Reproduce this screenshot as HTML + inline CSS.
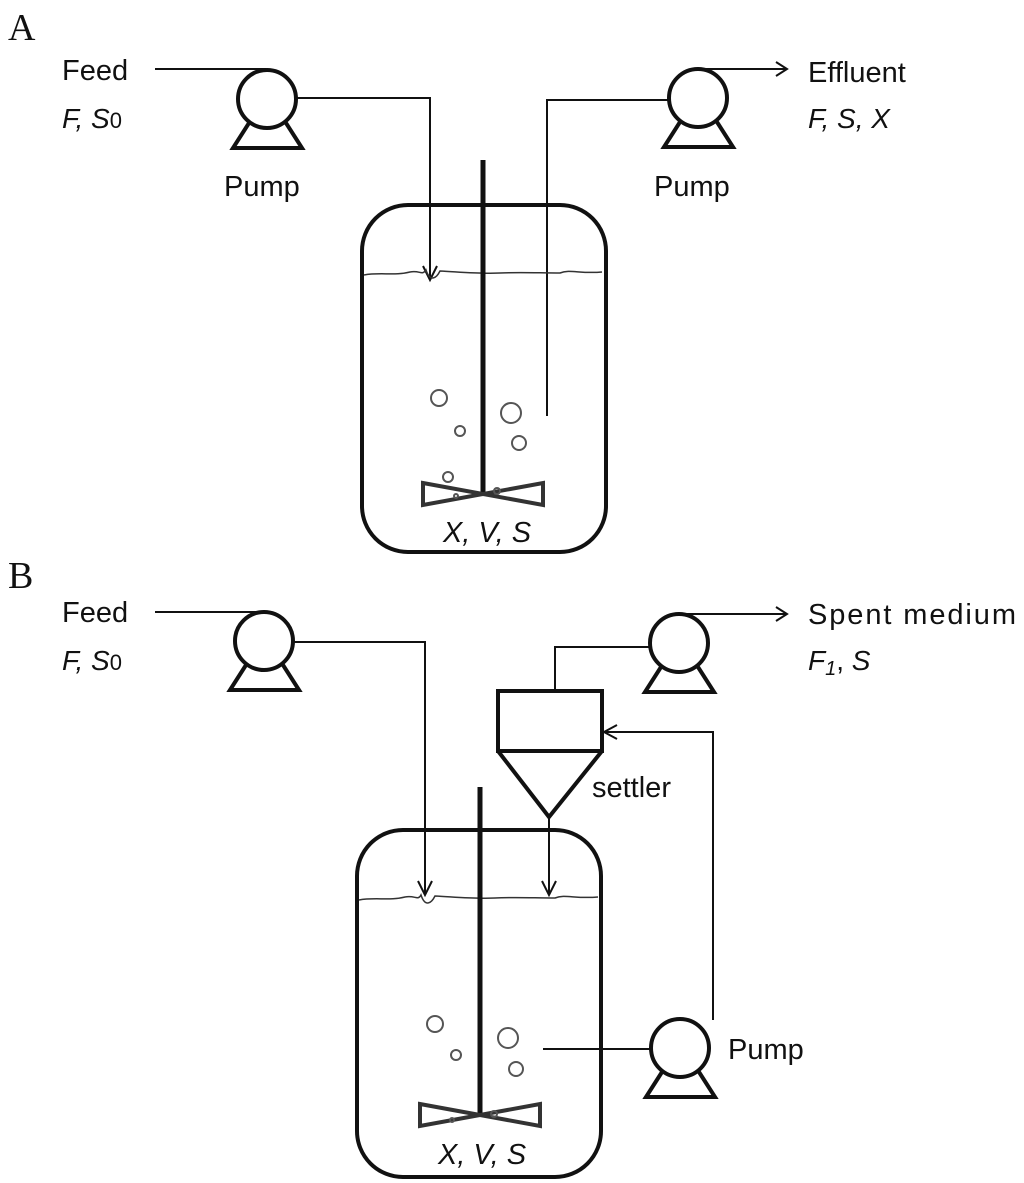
<!DOCTYPE html>
<html><head><style>
html,body{margin:0;padding:0;background:#fff;}
svg{display:block;}
text{font-family:"Liberation Sans",sans-serif;fill:#111;}
.i{font-style:italic;}
</style></head><body>
<svg width="1024" height="1183" viewBox="0 0 1024 1183" xmlns="http://www.w3.org/2000/svg">
<defs>
<g id="pump">
<circle cx="0" cy="0" r="29" fill="#fff" stroke="#111" stroke-width="4"/>
<path d="M-18,24 L-34,49 L35,49 L19,24" fill="none" stroke="#111" stroke-width="4" stroke-linejoin="miter"/>
</g>
<g id="imp">
<path d="M-60,-11 L60,11 L60,-11 L-60,11 Z" fill="none" stroke="#333" stroke-width="4" stroke-linejoin="miter"/>
</g>
</defs>
<text x="8" y="40" style="font-family:'Liberation Serif',serif;font-size:38px">A</text>
<text x="62" y="80" font-size="29">Feed</text>
<text x="62" y="128" font-size="28" class="i">F, S<tspan font-style="normal" font-size="22">0</tspan></text>
<text x="224" y="196" font-size="29">Pump</text>
<text x="654" y="196" font-size="29">Pump</text>
<text x="808" y="82" font-size="29">Effluent</text>
<text x="808" y="128" font-size="28" class="i">F, S, X</text>
<g stroke="#111" fill="none" stroke-width="2">
<path d="M155,69 L266,69"/>
<path d="M296,98 L430,98 L430,278"/>
<path d="M423,266 L430,280 L437,266"/>
<path d="M547,416 L547,100 L669,100"/>
<path d="M698,69 L786,69"/>
<path d="M776,62 L787,69 L776,76"/>
</g>
<use href="#pump" x="267" y="99"/>
<use href="#pump" x="698" y="98"/>
<rect x="362" y="205" width="244" height="347" rx="46" fill="none" stroke="#111" stroke-width="4"/>
<path d="M364,275 C380,272 395,276 410,272 C420,270 422,276 426,270 C430,282 436,279 440,271 C460,272 480,274 500,273 C520,272 540,273 560,273 C570,269 580,274 602,272" fill="none" stroke="#333" stroke-width="1.5"/>
<line x1="483" y1="160" x2="483" y2="493" stroke="#111" stroke-width="5"/>
<use href="#imp" x="483" y="494"/>
<g fill="none" stroke="#555" stroke-width="2">
<circle cx="439" cy="398" r="8"/><circle cx="460" cy="431" r="5"/><circle cx="511" cy="413" r="10"/><circle cx="519" cy="443" r="7"/><circle cx="448" cy="477" r="5"/><circle cx="456" cy="496" r="2"/><circle cx="497" cy="491" r="3"/>
</g>
<text x="487" y="542" font-size="29" class="i" text-anchor="middle">X, V, S</text>

<text x="8" y="588" style="font-family:'Liberation Serif',serif;font-size:38px">B</text>
<text x="62" y="622" font-size="29">Feed</text>
<text x="62" y="670" font-size="28" class="i">F, S<tspan font-style="normal" font-size="22">0</tspan></text>
<text x="808" y="624" font-size="29" textLength="208">Spent medium</text>
<text x="808" y="670" font-size="28" class="i">F<tspan font-size="20" dy="5">1</tspan><tspan dy="-5" font-style="normal">, </tspan>S</text>
<text x="592" y="797" font-size="29">settler</text>
<text x="728" y="1059" font-size="29">Pump</text>
<g stroke="#111" fill="none" stroke-width="2">
<path d="M155,612 L264,612"/>
<path d="M293,642 L425,642 L425,893"/>
<path d="M418,881 L425,895 L432,881"/>
<path d="M555,691 L555,647 L650,647"/>
<path d="M679,614 L786,614"/>
<path d="M776,607 L787,614 L776,621"/>
<path d="M549,817 L549,893"/>
<path d="M542,881 L549,895 L556,881"/>
<path d="M713,1020 L713,732 L605,732"/>
<path d="M617,725 L604,732 L617,739"/>
<path d="M543,1049 L651,1049"/>
</g>
<use href="#pump" x="264" y="641"/>
<use href="#pump" x="679" y="643"/>
<use href="#pump" x="680" y="1048"/>
<rect x="498" y="691" width="104" height="60" fill="#fff" stroke="#111" stroke-width="4"/>
<path d="M498,751 L549,817 L602,751" fill="none" stroke="#111" stroke-width="4"/>
<rect x="357" y="830" width="244" height="347" rx="46" fill="none" stroke="#111" stroke-width="4"/>
<path d="M359,900 C375,897 390,901 405,897 C415,895 418,901 421,895 C425,907 431,904 435,896 C455,897 475,899 495,898 C515,897 535,898 555,898 C565,894 575,899 598,897" fill="none" stroke="#333" stroke-width="1.5"/>
<line x1="480" y1="787" x2="480" y2="1114" stroke="#111" stroke-width="5"/>
<use href="#imp" x="480" y="1115"/>
<g fill="none" stroke="#555" stroke-width="2">
<circle cx="435" cy="1024" r="8"/><circle cx="456" cy="1055" r="5"/><circle cx="508" cy="1038" r="10"/><circle cx="516" cy="1069" r="7"/><circle cx="452" cy="1120" r="2"/><circle cx="494" cy="1114" r="3"/>
</g>
<text x="482" y="1164" font-size="29" class="i" text-anchor="middle">X, V, S</text>
</svg>
</body></html>
